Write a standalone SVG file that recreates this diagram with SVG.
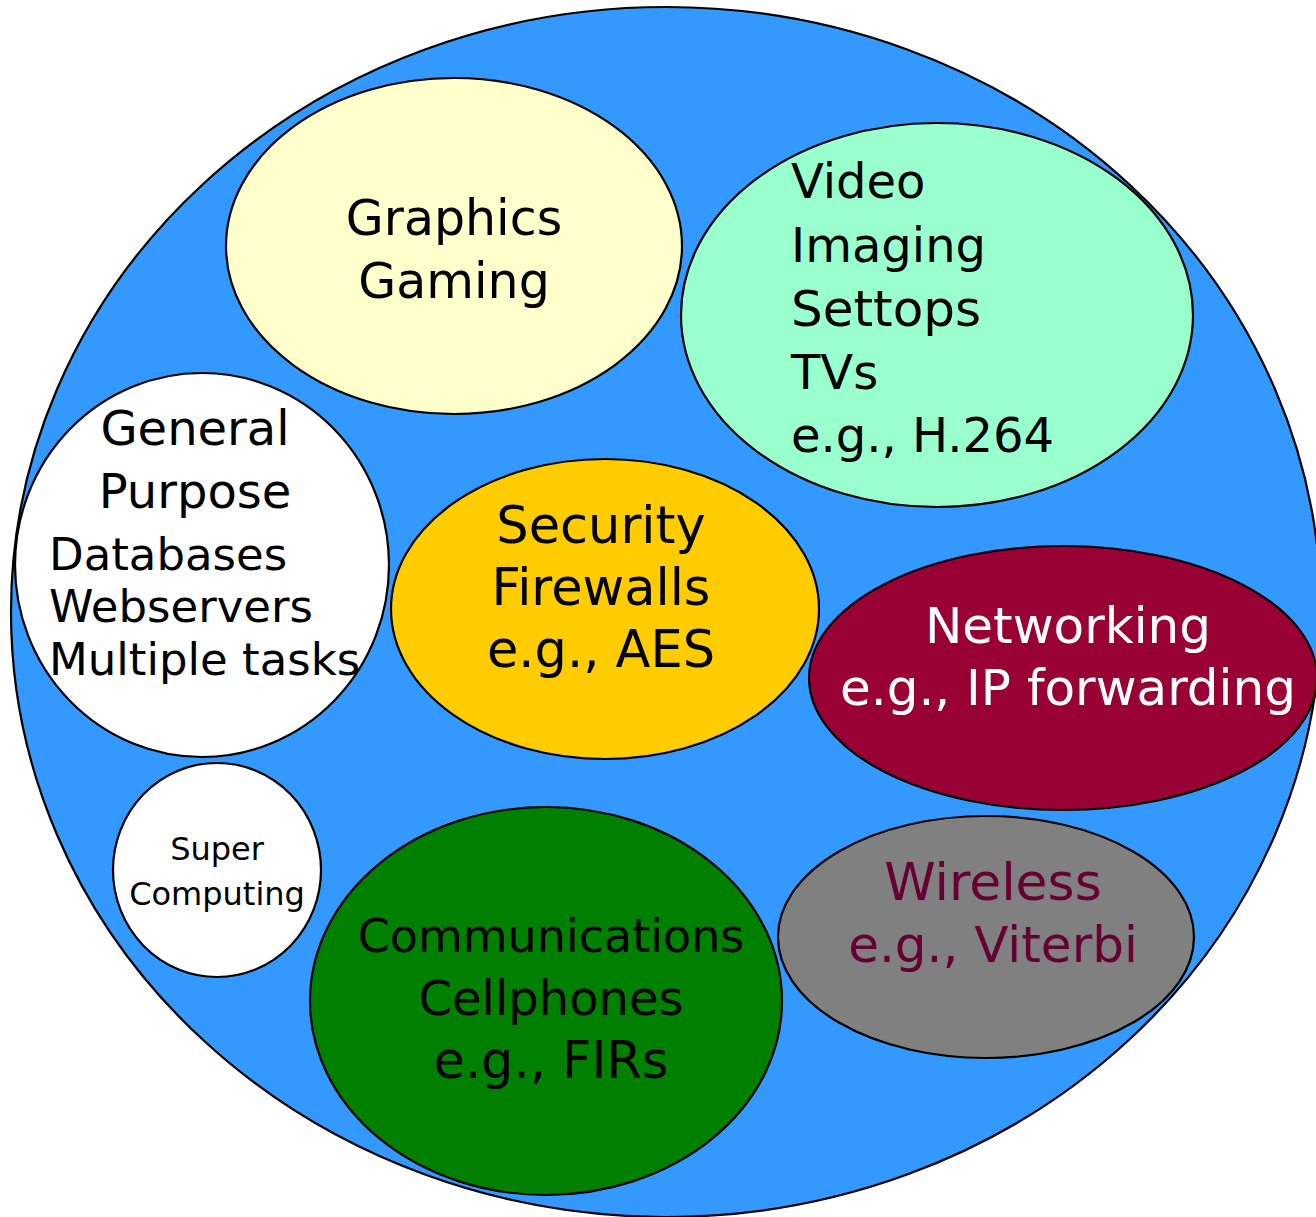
<svg xmlns="http://www.w3.org/2000/svg" width="1316" height="1217" viewBox="0 0 1316 1217">
<style>
ellipse { stroke: #000; stroke-width: 2.2; }
text { font-family: "DejaVu Sans", "Liberation Sans", sans-serif; font-size: 48px; fill: #000; }
.c { text-anchor: middle; }
.w { fill: #fff; }
.m { fill: #660033; }
</style>
<rect width="1316" height="1217" fill="#fff"/>
<g id="outer"><ellipse cx="666" cy="612" rx="655" ry="605" fill="#3399ff"/></g>
<g id="graphics">
<ellipse cx="454" cy="246" rx="228" ry="168" fill="#ffffcc"/>
<text class="c" x="454" y="235" style="font-size:49px">Graphics</text>
<text class="c" x="454" y="298" style="font-size:49px">Gaming</text>
</g>
<g id="video">
<ellipse cx="937" cy="315" rx="256" ry="192" fill="#99ffcc"/>
<text x="791" y="198">Video</text>
<text x="791" y="262">Imaging</text>
<text x="791" y="326" style="font-size:50px">Settops</text>
<text x="791" y="389">TVs</text>
<text x="791" y="452">e.g., H.264</text>
</g>
<g id="general">
<ellipse cx="202" cy="565" rx="187" ry="192" fill="#fff"/>
<text class="c" x="195" y="445">General</text>
<text class="c" x="195" y="508">Purpose</text>
<text x="49" y="570" style="font-size:45px">Databases</text>
<text x="49" y="622" style="font-size:45px">Webservers</text>
<text x="49" y="675" style="font-size:45px">Multiple tasks</text>
</g>
<g id="security">
<ellipse cx="605" cy="609" rx="214" ry="150" fill="#ffcc00"/>
<text class="c" x="601" y="543" style="font-size:51px">Security</text>
<text class="c" x="601" y="605" style="font-size:51px">Firewalls</text>
<text class="c" x="601" y="667" style="font-size:51px">e.g., AES</text>
</g>
<g id="networking">
<ellipse cx="1063" cy="678" rx="254" ry="132" fill="#990033"/>
<text class="c w" x="1068" y="643" style="font-size:50px">Networking</text>
<text class="c w" x="1068" y="705" style="font-size:50px">e.g., IP forwarding</text>
</g>
<g id="super">
<ellipse cx="217" cy="870" rx="104" ry="107" fill="#fff"/>
<text class="c" x="217" y="860" style="font-size:32px">Super</text>
<text class="c" x="217" y="905" style="font-size:32px">Computing</text>
</g>
<g id="communications">
<ellipse cx="546" cy="1001" rx="236" ry="194" fill="#008000"/>
<text class="c" x="551" y="952" style="font-size:46px">Communications</text>
<text class="c" x="551" y="1015">Cellphones</text>
<text class="c" x="551" y="1078" style="font-size:51px">e.g., FIRs</text>
</g>
<g id="wireless">
<ellipse cx="986" cy="937" rx="208" ry="121" fill="#808080"/>
<text class="c m" x="993" y="900" style="font-size:52px">Wireless</text>
<text class="c m" x="993" y="962" style="font-size:50px">e.g., Viterbi</text>
</g>
<g id="connectors"/>
</svg>
